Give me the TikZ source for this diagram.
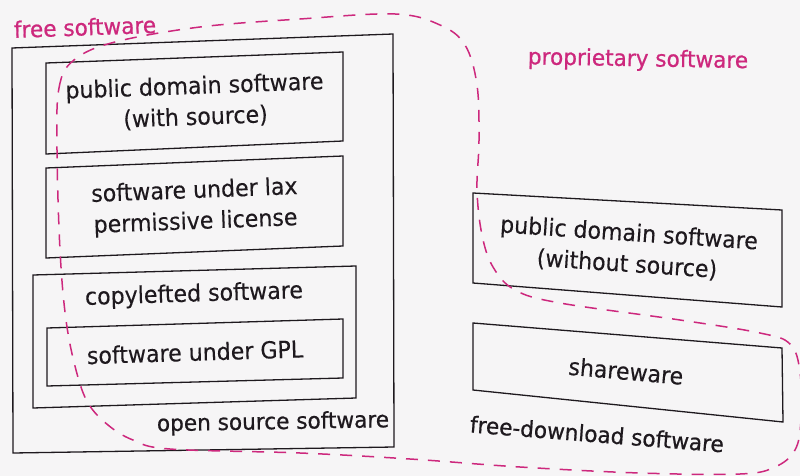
\documentclass[tikz,border=0pt]{standalone}
\usepackage{fontspec}
\setmainfont[FakeStretch=0.94,FakeBold=0.25]{DejaVu Sans}
\newfontfamily\labfont[FakeBold=0.7,FakeStretch=0.96]{DejaVu Sans}
\definecolor{mag}{RGB}{205,40,125}
\definecolor{paper}{RGB}{246,245,246}
\definecolor{ink}{RGB}{30,25,30}
\begin{document}
\begin{tikzpicture}[x=1pt,y=-1pt,
  boxline/.style={draw=ink, line width=1.3pt, line join=miter},
  txt/.style={inner sep=0pt, align=center, font=\fontsize{23.5}{31}\selectfont, text=ink},
  lbl/.style={inner sep=0pt, font=\labfont\fontsize{22.5}{26}\selectfont, text=ink},
  region/.style={draw=mag, line width=1.5pt, dash pattern=on 12pt off 10pt}]
\path[use as bounding box, fill=paper] (0,0) rectangle (800,476);

% box corners (tl, tr, br, bl)
\coordinate (osTL) at (12,48);  \coordinate (osTR) at (393,34);
\coordinate (osBR) at (394,447); \coordinate (osBL) at (13,453);
\coordinate (b1TL) at (46,63);  \coordinate (b1TR) at (343,52);
\coordinate (b1BR) at (343,141); \coordinate (b1BL) at (46,154);
\coordinate (b2TL) at (46,168); \coordinate (b2TR) at (343,156);
\coordinate (b2BR) at (343,246); \coordinate (b2BL) at (46,258);
\coordinate (b3TL) at (33,275); \coordinate (b3TR) at (356,266);
\coordinate (b3BR) at (356,398); \coordinate (b3BL) at (33,408);
\coordinate (b4TL) at (47,328); \coordinate (b4TR) at (343,319);
\coordinate (b4BR) at (343,378); \coordinate (b4BL) at (47,386);
\coordinate (r1TL) at (473,193); \coordinate (r1TR) at (782,210);
\coordinate (r1BR) at (782,307); \coordinate (r1BL) at (473,283);
\coordinate (r2TL) at (473,323); \coordinate (r2TR) at (782,348);
\coordinate (r2BR) at (783,422); \coordinate (r2BL) at (473,390);

\draw[boxline] (osTL) -- (osTR) -- (osBR) -- (osBL) -- cycle;
\draw[boxline] (b1TL) -- (b1TR) -- (b1BR) -- (b1BL) -- cycle;
\draw[boxline] (b2TL) -- (b2TR) -- (b2BR) -- (b2BL) -- cycle;
\draw[boxline] (b3TL) -- (b3TR) -- (b3BR) -- (b3BL) -- cycle;
\draw[boxline] (b4TL) -- (b4TR) -- (b4BR) -- (b4BL) -- cycle;
\draw[boxline] (r1TL) -- (r1TR) -- (r1BR) -- (r1BL) -- cycle;
\draw[boxline] (r2TL) -- (r2TR) -- (r2BR) -- (r2BL) -- cycle;

% box texts
\node[txt, rotate=2.1] (pdws) at (195,102) {public domain software\\(with source)};
\node[txt, rotate=2.2] (lax) at (195,207) {software under lax\\permissive license};
\node[txt, rotate=1.8] (copylbl) at (194,295) {copylefted software};
\node[txt, rotate=1.8] (gpl) at (195,352) {software under GPL};
\node[txt, rotate=-3.8] (pdns) at (628,249) {public domain software\\(without source)};
\node[txt, rotate=-5] (share) at (626,371) {shareware};

% region labels
\node[lbl, text=mag, rotate=2] (fs) at (85,27) {free software};
\node[lbl, text=mag, rotate=-1] (ps) at (638,60) {proprietary software};
\node[lbl, rotate=1] (os) at (273,423) {open source software};
\node[lbl, rotate=-4.5] (fd) at (597,434) {free-download software};

% dashed region boundary
\draw[region] plot[smooth cycle, tension=0.6] coordinates {
  (57,150) (59,88) (74,60) (115,42) (200,27) (300,19) (395,14) (440,25)
  (465,45) (477,85) (479,140) (477,190) (482,235) (493,267) (515,290)
  (560,303) (680,320) (760,333) (790,344) (800,372) (801,420) (795,450)
  (775,467) (740,474) (640,473) (520,467) (410,459) (300,453) (170,449)
  (133,440) (108,425) (88,403) (76,370) (66,320) (60,250)};
\end{tikzpicture}
\end{document}
